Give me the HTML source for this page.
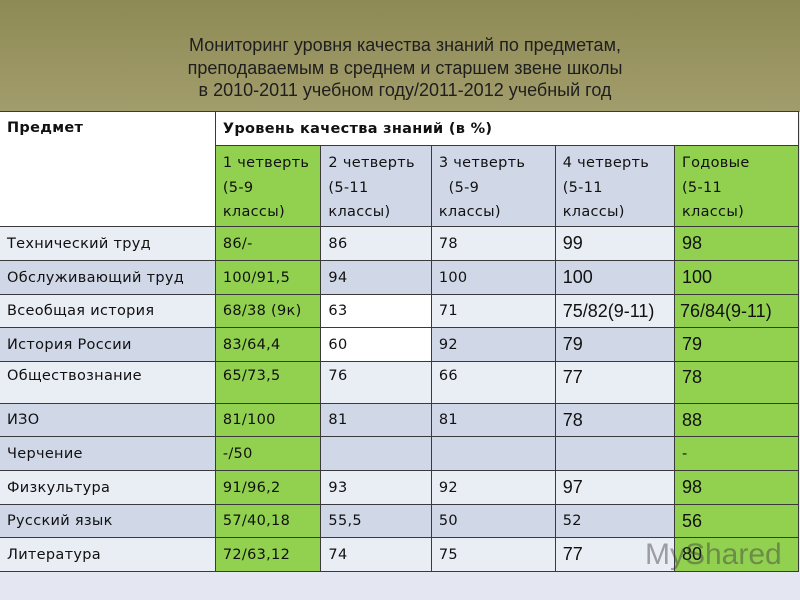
<!DOCTYPE html>
<html><head><meta charset="utf-8">
<style>
body{margin:0;width:800px;height:600px;overflow:hidden;background:#e4e6f2;font-family:"DejaVu Sans","Liberation Sans",sans-serif;position:relative}
#bg{position:absolute;left:0;top:0;width:800px;height:112px;background:linear-gradient(#8e8a55,#a29d6c)}
#title{position:absolute;left:0;top:34px;width:810px;text-align:center;font-family:"Liberation Sans",sans-serif;font-size:18px;line-height:22.5px;color:#1e1e1e;transform:scaleX(1.0);transform-origin:405px 0}
table{position:absolute;left:-1px;top:111px;border-collapse:collapse;table-layout:fixed}
td{border:1.5px solid #3a3a3a;padding:0 0 0 7px;font-size:14.5px;letter-spacing:0.3px;color:#111;vertical-align:middle;overflow:hidden;white-space:nowrap}
.L{background:#e9edf4}.D{background:#d0d8e8}.W{background:#fff}.G{background:#92d050}
.big{font-family:"Liberation Sans",sans-serif;font-size:18px;letter-spacing:0}
.h td{vertical-align:top;padding-top:5px;line-height:24.5px;white-space:nowrap}
</style></head><body>
<div id="bg"></div>
<div id="title">Мониторинг уровня качества знаний по предметам,<br>преподаваемым в среднем и старшем звене школы<br>в 2010-2011 учебном году/2011-2012 учебный год</div>
<table>
<colgroup><col style="width:217px"><col style="width:106px"><col style="width:111px"><col style="width:125px"><col style="width:120px"><col style="width:125px"></colgroup>
<tr style="height:34px"><td rowspan="2" class="W" style="vertical-align:top;padding-top:8px;font-weight:bold">Предмет</td><td colspan="5" class="W" style="font-weight:bold">Уровень качества знаний (в %)</td></tr>
<tr class="h" style="height:81px"><td class="G">1 четверть<br>(5-9<br>классы)</td><td class="D">2 четверть<br>(5-11<br>классы)</td><td class="D">3 четверть<br>&nbsp;&nbsp;(5-9<br>классы)</td><td class="D">4 четверть<br>(5-11<br>классы)</td><td class="G">Годовые<br>(5-11<br>классы)</td></tr>
<tr style="height:34px" class="L"><td>Технический труд</td><td class="G">86/-</td><td>86</td><td>78</td><td class="big">99</td><td class="G big">98</td></tr>
<tr style="height:34px" class="D"><td>Обслуживающий труд</td><td class="G">100/91,5</td><td>94</td><td>100</td><td class="big">100</td><td class="G big">100</td></tr>
<tr style="height:33px" class="L"><td>Всеобщая история</td><td class="G">68/38 (9к)</td><td class="W">63</td><td>71</td><td class="big">75/82(9-11)</td><td class="G big" style="padding-left:5px">76/84(9-11)</td></tr>
<tr style="height:34px" class="D"><td>История России</td><td class="G">83/64,4</td><td class="W">60</td><td>92</td><td class="big">79</td><td class="G big">79</td></tr>
<tr style="height:42px" class="L"><td style="vertical-align:top;padding-top:6px">Обществознание</td><td class="G" style="vertical-align:top;padding-top:6px">65/73,5</td><td style="vertical-align:top;padding-top:6px">76</td><td style="vertical-align:top;padding-top:6px">66</td><td class="big" style="vertical-align:top;padding-top:5px">77</td><td class="G big" style="vertical-align:top;padding-top:5px">78</td></tr>
<tr style="height:33px" class="D"><td>ИЗО</td><td class="G">81/100</td><td>81</td><td>81</td><td class="big">78</td><td class="G big">88</td></tr>
<tr style="height:34px" class="D"><td>Черчение</td><td class="G">-/50</td><td></td><td></td><td></td><td class="G">-</td></tr>
<tr style="height:34px" class="L"><td>Физкультура</td><td class="G">91/96,2</td><td>93</td><td>92</td><td class="big">97</td><td class="G big">98</td></tr>
<tr style="height:33px" class="D"><td>Русский язык</td><td class="G">57/40,18</td><td>55,5</td><td>50</td><td>52</td><td class="G big">56</td></tr>
<tr style="height:34px" class="L"><td>Литература</td><td class="G">72/63,12</td><td>74</td><td>75</td><td class="big">77</td><td class="G big">80</td></tr>
</table>
<div style="position:absolute;left:645px;top:538px;font-family:'Liberation Sans',sans-serif;font-size:30px;color:rgba(60,60,60,0.45)">MyShared</div>
</body></html>
